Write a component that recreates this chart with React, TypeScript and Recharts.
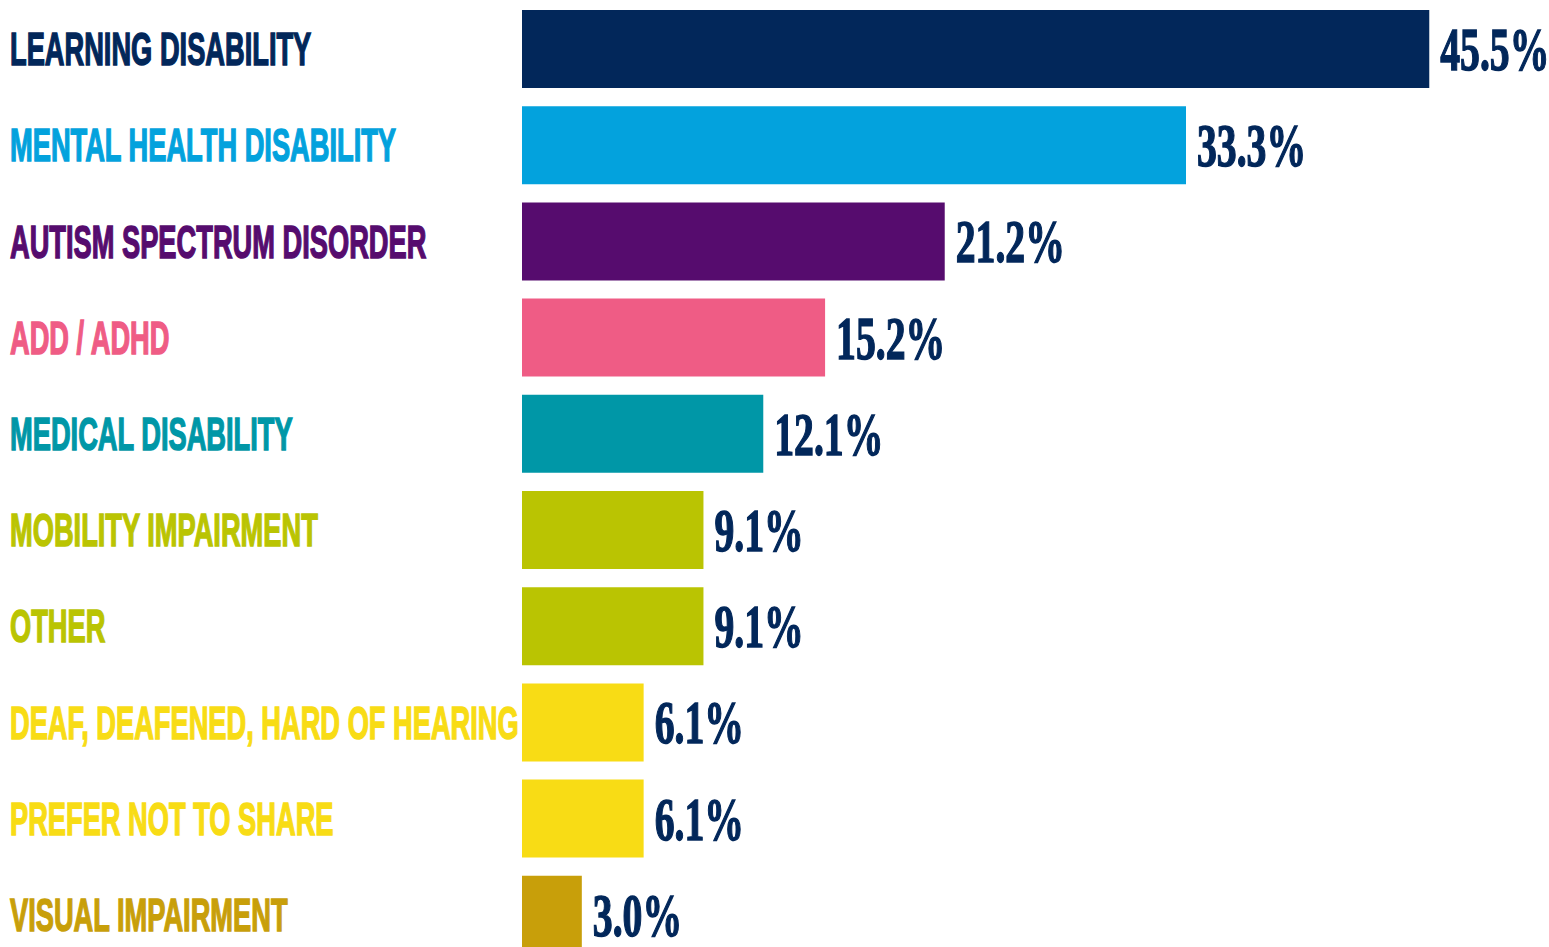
import React from "react";
import { BarChart, Bar, XAxis, YAxis, Cell, LabelList } from "recharts";

const categories = [
  "LEARNING DISABILITY",
  "MENTAL HEALTH DISABILITY",
  "AUTISM SPECTRUM DISORDER",
  "ADD / ADHD",
  "MEDICAL DISABILITY",
  "MOBILITY IMPAIRMENT",
  "OTHER",
  "DEAF, DEAFENED, HARD OF HEARING",
  "PREFER NOT TO SHARE",
  "VISUAL IMPAIRMENT",
];
const percents = [45.5, 33.3, 21.2, 15.2, 12.1, 9.1, 9.1, 6.1, 6.1, 3.0];
const colors = [
  "#02275a",
  "#03a2dd",
  "#560c6e",
  "#ef5c85",
  "#0097a7",
  "#bac402",
  "#bac402",
  "#f8dc15",
  "#f8dc15",
  "#c89f0a",
];

const NAVY = "#02275a";
const LABEL_FONT = "'Liberation Sans', Arial, sans-serif";
const VALUE_FONT = "'Liberation Serif', serif";

const data = categories.map((name, i) => ({ name, pct: percents[i] }));

function CategoryTick(props: any) {
  const { y, payload, index } = props;
  return (
    <g transform={`translate(10, ${y}) scale(0.58, 1)`}>
      <text
        x={0}
        y={0}
        dy={16}
        textAnchor="start"
        fontFamily={LABEL_FONT}
        fontWeight="bold"
        fontSize={47}
        fill={colors[index]}
        stroke={colors[index]}
        strokeWidth={1.5}
      >
        {payload.value}
      </text>
    </g>
  );
}

function ValueLabel(props: any) {
  const { x, y, width, height, value } = props;
  const tx = x + width + 11;
  const ty = y + height / 2;
  return (
    <g transform={`translate(${tx}, ${ty}) scale(0.64, 1)`}>
      <text
        x={0}
        y={0}
        dy={21}
        textAnchor="start"
        fontFamily={VALUE_FONT}
        fontWeight="bold"
        fontSize={62}
        fill={NAVY}
        stroke={NAVY}
        strokeWidth={1.5}
      >
        {`${value.toFixed(1)}%`}
      </text>
    </g>
  );
}

export default function App() {
  return (
    <div
      style={{
        position: "absolute",
        left: 0,
        top: 0,
        width: 1549,
        height: 947,
        overflow: "hidden",
        background: "#ffffff",
      }}
    >
      <BarChart
        width={1549}
        height={964}
        data={data}
        layout="vertical"
        margin={{ top: 1, right: 30, bottom: 1, left: 0 }}
        barCategoryGap={18}
      >
        <XAxis type="number" domain={[0, 50]} hide />
        <YAxis
          type="category"
          dataKey="name"
          width={522}
          axisLine={false}
          tickLine={false}
          interval={0}
          tick={<CategoryTick />}
        />
        <Bar dataKey="pct" barSize={78} isAnimationActive={false}>
          {data.map((d, i) => (
            <Cell key={d.name} fill={colors[i]} />
          ))}
          <LabelList dataKey="pct" content={<ValueLabel />} />
        </Bar>
      </BarChart>
    </div>
  );
}
